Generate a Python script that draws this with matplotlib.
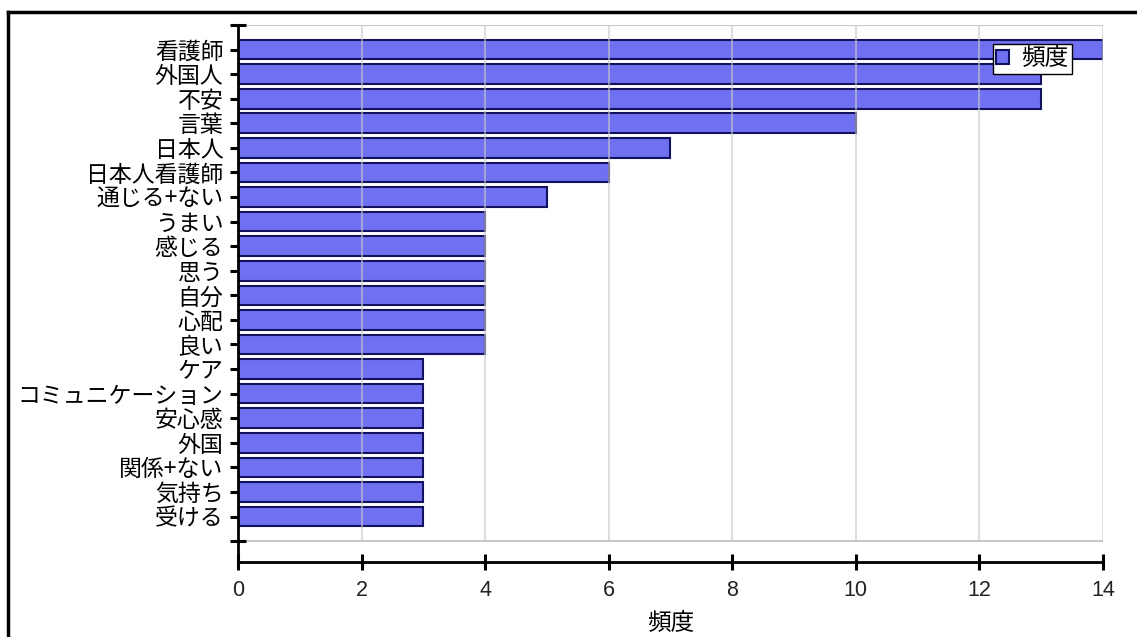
import matplotlib.pyplot as plt
from matplotlib.lines import Line2D

plt.rcParams['font.family'] = ['Noto Sans CJK JP', 'DejaVu Sans']

labels = ["看護師", "外国人", "不安", "言葉", "日本人", "日本人看護師", "通じる+ない",
          "うまい", "感じる", "思う", "自分", "心配", "良い", "ケア", "コミュニケーション",
          "安心感", "外国", "関係+ない", "気持ち", "受ける"]
counts = [14, 13, 13, 10, 7, 6, 5, 4, 4, 4, 4, 4, 4, 3, 3, 3, 3, 3, 3, 3]
xticks = [0, 2, 4, 6, 8, 10, 12, 14]

fig = plt.figure(figsize=(11.37, 6.37), dpi=100)
ax = fig.add_axes([0.2093, 0.1177, 0.7608, 0.8431])

pos = list(range(len(labels)))
ax.barh(pos, counts, height=0.8, color="#7070f2", edgecolor="#12125e",
        linewidth=1.5, label="頻度", zorder=2)

# grid inside the plot area only
ax.vlines(xticks[1:], -1, len(labels), color="#c8c8c8", linewidth=1.5, alpha=0.6, zorder=3)
ax.hlines([-1, len(labels)], 0, 14, color="#c8c8c8", linewidth=1.5, zorder=1)

ax.set_xlim(0, 14)
ax.set_ylim(len(labels) + 0.85, -1)
ax.set_xticks(xticks)
ax.set_xticklabels([str(v) for v in xticks], family="Liberation Sans", fontsize=15.5, color="#222222")
ax.set_yticks([-1] + pos + [len(labels)])
ax.set_yticklabels([""] + labels + [""], fontsize=16.5)
ax.tick_params(axis="y", direction="inout", length=11, width=2.2, pad=5)
ax.tick_params(axis="x", direction="inout", length=12, width=2.2, pad=7)

for s in ["top", "right"]:
    ax.spines[s].set_visible(False)
ax.spines["left"].set_linewidth(2)
ax.spines["bottom"].set_linewidth(2)

ax.set_xlabel("頻度", fontsize=17, labelpad=8)

ax.legend(loc="upper right", bbox_to_anchor=(0.964, 0.965), fontsize=17,
          frameon=True, fancybox=False, edgecolor="black", framealpha=1,
          handlelength=0.55, handleheight=0.55, handletextpad=0.5,
          borderpad=0.15, borderaxespad=0)

# outer frame (top and left only)
fig.add_artist(Line2D([8 / 1137, 1], [1 - 12 / 637, 1 - 12 / 637], color="black", linewidth=2.5))
fig.add_artist(Line2D([8 / 1137, 8 / 1137], [0, 1 - 12 / 637], color="black", linewidth=2.5))

fig.savefig("out.png", dpi=100)
